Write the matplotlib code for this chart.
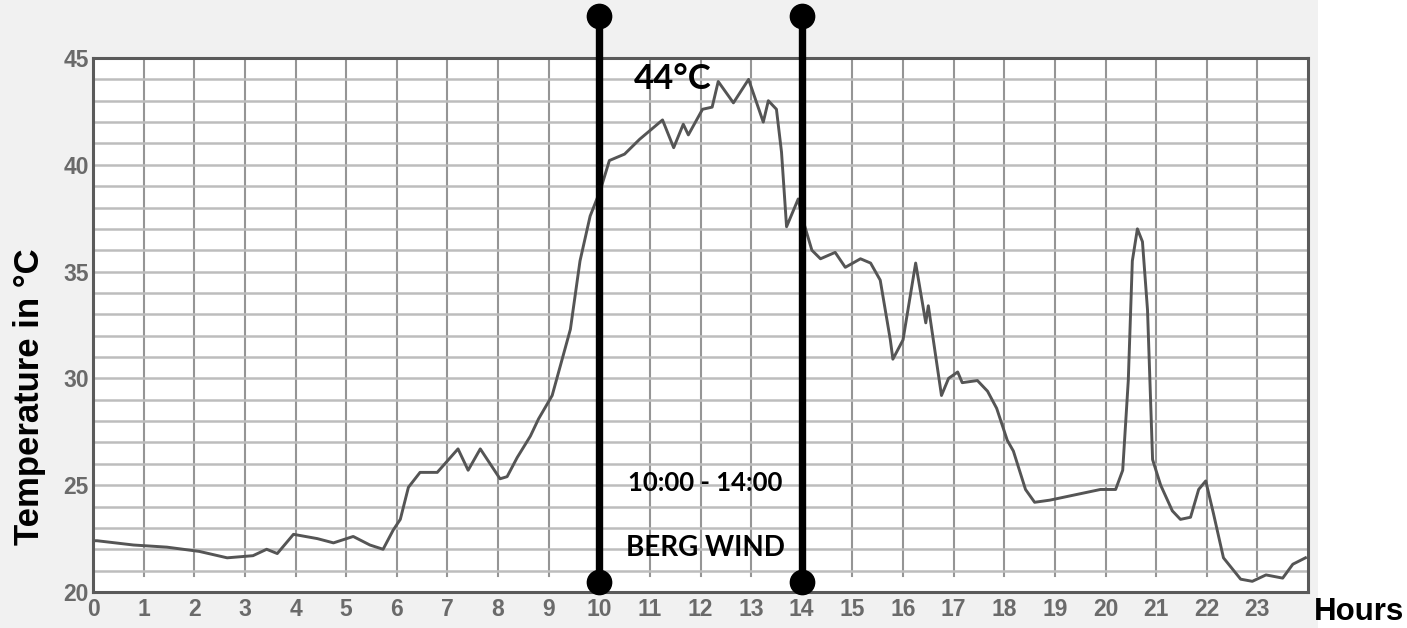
import matplotlib
matplotlib.use("Agg")
import matplotlib.pyplot as plt
from matplotlib.patches import Rectangle

# temperature trace (hour, deg C)
hours = [
    0.0, 0.08, 0.8, 1.46, 2.1, 2.65, 3.16, 3.43, 3.64, 3.96, 4.43, 4.75, 5.14,
    5.47, 5.73, 5.93, 6.07, 6.23, 6.46, 6.8, 7.21, 7.41, 7.65, 8.04, 8.18,
    8.38, 8.64, 8.8, 9.07, 9.43, 9.62, 9.82, 10.02, 10.2, 10.5, 10.8, 11.0,
    11.25, 11.47, 11.66, 11.76, 12.04, 12.23, 12.35, 12.65, 12.95, 13.24,
    13.34, 13.5, 13.6, 13.7, 13.93, 14.0, 14.2, 14.37, 14.66, 14.86, 15.16,
    15.36, 15.55, 15.75, 15.8, 16.0, 16.25, 16.45, 16.5, 16.76, 16.9, 17.08,
    17.17, 17.47, 17.67, 17.85, 18.06, 18.18, 18.42, 18.6, 18.9, 19.5, 19.9,
    20.2, 20.34, 20.45, 20.53, 20.63, 20.73, 20.83, 20.93, 21.09, 21.32,
    21.48, 21.68, 21.84, 21.98, 22.13, 22.33, 22.67, 22.9, 23.17, 23.5, 23.7,
    23.95,
]
temps = [
    22.4, 22.4, 22.2, 22.1, 21.9, 21.6, 21.7, 22.0, 21.8, 22.7, 22.5, 22.3,
    22.6, 22.2, 22.0, 22.9, 23.4, 24.9, 25.6, 25.6, 26.7, 25.7, 26.7, 25.3,
    25.4, 26.3, 27.3, 28.1, 29.2, 32.3, 35.5, 37.6, 38.8, 40.2, 40.5, 41.2,
    41.6, 42.1, 40.8, 41.9, 41.4, 42.6, 42.7, 43.9, 42.9, 44.0, 42.0, 43.0,
    42.6, 40.6, 37.1, 38.4, 37.6, 36.0, 35.6, 35.9, 35.2, 35.6, 35.4, 34.6,
    31.8, 30.9, 31.8, 35.4, 32.6, 33.4, 29.2, 30.0, 30.3, 29.8, 29.9, 29.4,
    28.6, 27.1, 26.6, 24.8, 24.2, 24.3, 24.6, 24.8, 24.8, 25.7, 29.9, 35.5,
    37.0, 36.4, 33.2, 26.2, 25.0, 23.8, 23.4, 23.5, 24.8, 25.2, 23.7, 21.6,
    20.6, 20.5, 20.8, 20.65, 21.3, 21.6,
]

x_ticks = list(range(0, 24))
y_ticks = [20, 25, 30, 35, 40, 45]

# berg wind window markers
window_hours = [10, 14]
window_bottom = 20.47
window_top = 46.97

peak_label = "44°C"
peak_pos = (11.46, 44.0)
window_label = "10:00 - 14:00"
window_label_pos = (12.1, 25.1)
wind_label = "BERG WIND"
wind_label_pos = (12.1, 22.05)

fig = plt.figure(figsize=(14.07, 6.28), dpi=100, facecolor="white")
# light grey backdrop of the original screenshot
bg = Rectangle((0, 0), 1318 / 1407, 1, transform=fig.transFigure,
               facecolor="#f1f1f1", edgecolor="none", zorder=-10)
fig.add_artist(bg)

ax = fig.add_axes([93 / 1407, 1 - 592 / 628, 1215 / 1407, 534 / 628])
ax.set_zorder(1)
ax.set_facecolor("white")

ax.set_xlim(0, 24)
ax.set_ylim(20, 45)

# grid: every hour / every degree
for h in range(1, 24):
    ax.axvline(h, ymin=0.03, ymax=1, color="#959595", lw=1.5, zorder=1)
for t in range(21, 45):
    ax.axhline(t, color="#bdbdbd", lw=1.8, zorder=1)

ax.plot(hours, temps, color="#555555", lw=2.1, zorder=3)

for h in window_hours:
    ax.plot([h, h], [window_bottom, window_top], color="black", lw=5.3,
            solid_capstyle="butt", clip_on=False, zorder=5)
    ax.plot([h, h], [window_bottom, window_top], "o", color="black",
            markersize=17.5, clip_on=False, zorder=6)

ax.text(*peak_pos, peak_label, fontsize=25, family="Lato", fontweight="bold",
        ha="center", va="center", zorder=7)
ax.text(*window_label_pos, window_label, fontsize=18.5, family="Lato",
        fontweight="bold", ha="center", va="center", zorder=7)
ax.text(*wind_label_pos, wind_label, fontsize=20, family="Lato",
        fontweight="bold", ha="center", va="center", zorder=7)

ax.set_xticks(x_ticks)
ax.set_xticklabels([str(h) for h in x_ticks])
ax.set_yticks(y_ticks)
ax.set_yticklabels([str(t) for t in y_ticks])
ax.tick_params(length=0, labelsize=16.5, labelcolor="#6a6a6a")
ax.tick_params(axis="x", pad=4)
ax.tick_params(axis="y", pad=3)
for lab in ax.get_xticklabels() + ax.get_yticklabels():
    lab.set_family("Liberation Sans")
    lab.set_fontweight("bold")

for s in ax.spines.values():
    s.set_color("#5a5a5a")
    s.set_linewidth(2.2)
    s.set_zorder(4)

fig.text(30 / 1407, 1 - 397 / 628, "Temperature in °C", rotation=90,
         fontsize=25, family="Liberation Sans", fontweight="bold",
         ha="center", va="center")
fig.text(1359 / 1407, 1 - 612 / 628, "Hours", fontsize=22.5,
         family="Liberation Sans", fontweight="bold", ha="center", va="center")

fig.savefig("out.png", dpi=100, facecolor=fig.get_facecolor())
